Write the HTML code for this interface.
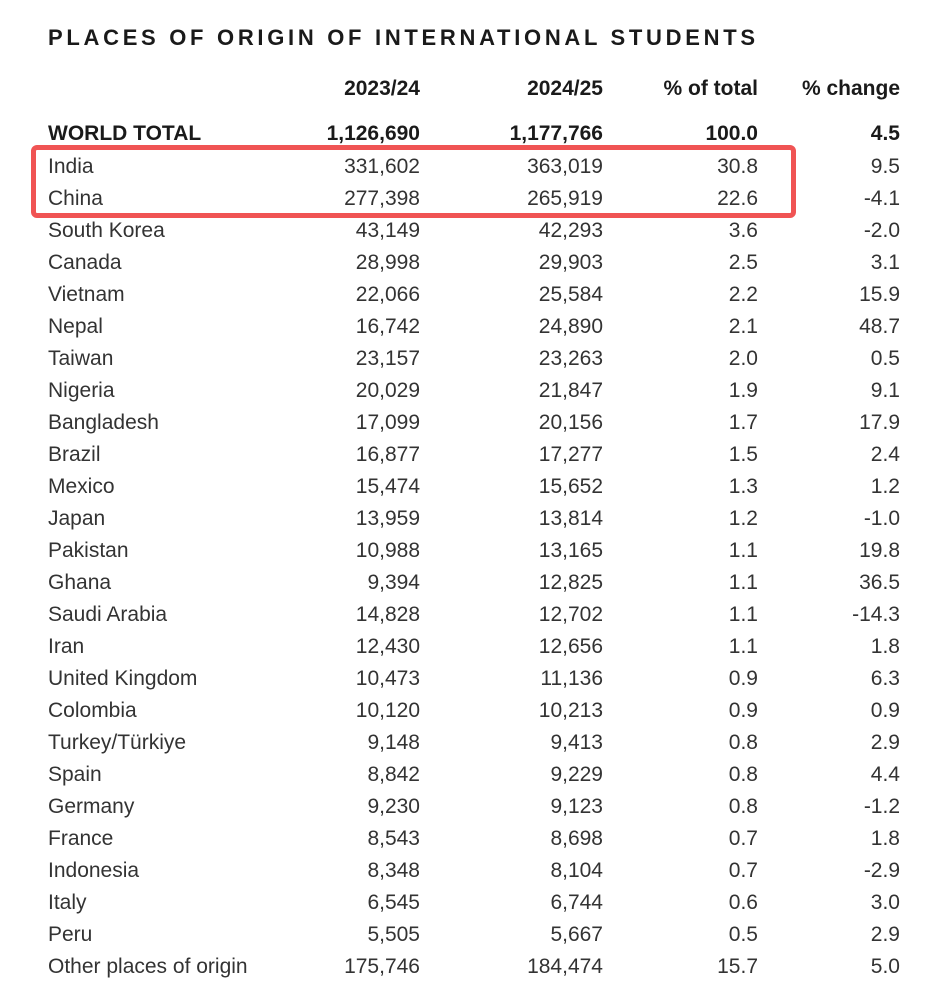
<!DOCTYPE html>
<html><head><meta charset="utf-8"><style>
body{margin:0;width:942px;height:986px;background:#fff;font-family:"Liberation Sans",sans-serif;color:#333;position:relative;overflow:hidden}
.w{position:absolute;left:0;top:1px;width:942px;height:986px}
.r{position:absolute;left:0;width:942px;height:32px;line-height:32px;font-size:21px}
.r span{position:absolute;white-space:nowrap}
.n{left:48px}
.a{right:522px}.b{right:339px}.c{right:184px}.d{right:42px}
.bold{font-weight:bold;color:#1a1a1a}
.title{position:absolute;left:48px;top:25px;font-size:22px;font-weight:bold;letter-spacing:3.7px;color:#1a1a1a}
.box{position:absolute;left:31px;top:145px;width:755px;height:63px;border:5px solid #f05454;border-radius:6px}
</style></head><body>
<div class="title">PLACES OF ORIGIN OF INTERNATIONAL STUDENTS</div>
<div class="w">
<div class="r bold" style="top:72px"><span class="a">2023/24</span><span class="b">2024/25</span><span class="c">% of total</span><span class="d">% change</span></div>
<div class="r bold" style="top:117px"><span class="n">WORLD TOTAL</span><span class="a">1,126,690</span><span class="b">1,177,766</span><span class="c">100.0</span><span class="d">4.5</span></div>
<div class="r" style="top:150px"><span class="n">India</span><span class="a">331,602</span><span class="b">363,019</span><span class="c">30.8</span><span class="d">9.5</span></div>
<div class="r" style="top:182px"><span class="n">China</span><span class="a">277,398</span><span class="b">265,919</span><span class="c">22.6</span><span class="d">-4.1</span></div>
<div class="r" style="top:214px"><span class="n">South Korea</span><span class="a">43,149</span><span class="b">42,293</span><span class="c">3.6</span><span class="d">-2.0</span></div>
<div class="r" style="top:246px"><span class="n">Canada</span><span class="a">28,998</span><span class="b">29,903</span><span class="c">2.5</span><span class="d">3.1</span></div>
<div class="r" style="top:278px"><span class="n">Vietnam</span><span class="a">22,066</span><span class="b">25,584</span><span class="c">2.2</span><span class="d">15.9</span></div>
<div class="r" style="top:310px"><span class="n">Nepal</span><span class="a">16,742</span><span class="b">24,890</span><span class="c">2.1</span><span class="d">48.7</span></div>
<div class="r" style="top:342px"><span class="n">Taiwan</span><span class="a">23,157</span><span class="b">23,263</span><span class="c">2.0</span><span class="d">0.5</span></div>
<div class="r" style="top:374px"><span class="n">Nigeria</span><span class="a">20,029</span><span class="b">21,847</span><span class="c">1.9</span><span class="d">9.1</span></div>
<div class="r" style="top:406px"><span class="n">Bangladesh</span><span class="a">17,099</span><span class="b">20,156</span><span class="c">1.7</span><span class="d">17.9</span></div>
<div class="r" style="top:438px"><span class="n">Brazil</span><span class="a">16,877</span><span class="b">17,277</span><span class="c">1.5</span><span class="d">2.4</span></div>
<div class="r" style="top:470px"><span class="n">Mexico</span><span class="a">15,474</span><span class="b">15,652</span><span class="c">1.3</span><span class="d">1.2</span></div>
<div class="r" style="top:502px"><span class="n">Japan</span><span class="a">13,959</span><span class="b">13,814</span><span class="c">1.2</span><span class="d">-1.0</span></div>
<div class="r" style="top:534px"><span class="n">Pakistan</span><span class="a">10,988</span><span class="b">13,165</span><span class="c">1.1</span><span class="d">19.8</span></div>
<div class="r" style="top:566px"><span class="n">Ghana</span><span class="a">9,394</span><span class="b">12,825</span><span class="c">1.1</span><span class="d">36.5</span></div>
<div class="r" style="top:598px"><span class="n">Saudi Arabia</span><span class="a">14,828</span><span class="b">12,702</span><span class="c">1.1</span><span class="d">-14.3</span></div>
<div class="r" style="top:630px"><span class="n">Iran</span><span class="a">12,430</span><span class="b">12,656</span><span class="c">1.1</span><span class="d">1.8</span></div>
<div class="r" style="top:662px"><span class="n">United Kingdom</span><span class="a">10,473</span><span class="b">11,136</span><span class="c">0.9</span><span class="d">6.3</span></div>
<div class="r" style="top:694px"><span class="n">Colombia</span><span class="a">10,120</span><span class="b">10,213</span><span class="c">0.9</span><span class="d">0.9</span></div>
<div class="r" style="top:726px"><span class="n">Turkey/Türkiye</span><span class="a">9,148</span><span class="b">9,413</span><span class="c">0.8</span><span class="d">2.9</span></div>
<div class="r" style="top:758px"><span class="n">Spain</span><span class="a">8,842</span><span class="b">9,229</span><span class="c">0.8</span><span class="d">4.4</span></div>
<div class="r" style="top:790px"><span class="n">Germany</span><span class="a">9,230</span><span class="b">9,123</span><span class="c">0.8</span><span class="d">-1.2</span></div>
<div class="r" style="top:822px"><span class="n">France</span><span class="a">8,543</span><span class="b">8,698</span><span class="c">0.7</span><span class="d">1.8</span></div>
<div class="r" style="top:854px"><span class="n">Indonesia</span><span class="a">8,348</span><span class="b">8,104</span><span class="c">0.7</span><span class="d">-2.9</span></div>
<div class="r" style="top:886px"><span class="n">Italy</span><span class="a">6,545</span><span class="b">6,744</span><span class="c">0.6</span><span class="d">3.0</span></div>
<div class="r" style="top:918px"><span class="n">Peru</span><span class="a">5,505</span><span class="b">5,667</span><span class="c">0.5</span><span class="d">2.9</span></div>
<div class="r" style="top:950px"><span class="n">Other places of origin</span><span class="a">175,746</span><span class="b">184,474</span><span class="c">15.7</span><span class="d">5.0</span></div>
</div>
<div class="box"></div>
</body></html>
